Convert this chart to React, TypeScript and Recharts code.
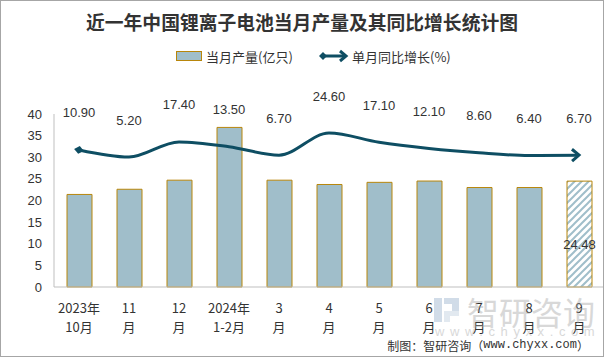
import { ComposedChart, Bar, Line, XAxis, YAxis, Cell, LabelList } from "recharts";

const MONTH_TOP = ["2023年", "11", "12", "2024年", "3", "4", "5", "6", "7", "8", "9"];
const MONTH_BOTTOM = ["10月", "月", "月", "1-2月", "月", "月", "月", "月", "月", "月", "月"];
// 当月产量(亿只)
const OUTPUT = [21.4, 22.6, 24.7, 36.9, 24.7, 23.7, 24.2, 24.5, 23.0, 23.0, 24.48];
// 单月同比增长(%)
const GROWTH = [10.9, 5.2, 17.4, 13.5, 6.7, 24.6, 17.1, 12.1, 8.6, 6.4, 6.7];
const Y_TICKS = [0, 5, 10, 15, 20, 25, 30, 35, 40];

const BAR_FILL = "#A0BECA";
const BAR_STROKE = "#B8860B";
const LINE_COLOR = "#0E4E63";
const TEXT = "#333333";
const NUM_FONT = "'Liberation Sans', Arial, sans-serif";
const CJK_FONT = "'Noto Sans CJK SC', 'Noto Sans', sans-serif";
const MONO_FONT = "'Liberation Mono', 'DejaVu Sans Mono', monospace";

const data = MONTH_TOP.map((top, i) => ({
  month: `${top}\n${MONTH_BOTTOM[i]}`,
  output: OUTPUT[i],
  growth: GROWTH[i],
}));

const lastIndex = data.length - 1;

function MonthTick({ x, y, payload }: any) {
  const [top, bottom] = String(payload.value).split("\n");
  return (
    <g>
      <text x={x} y={y + 18} textAnchor="middle" dominantBaseline="central" fontSize={13} fill={TEXT} fontFamily={CJK_FONT}>
        {top}
      </text>
      <text x={x} y={y + 37} textAnchor="middle" dominantBaseline="central" fontSize={13} fill={TEXT} fontFamily={CJK_FONT}>
        {bottom}
      </text>
    </g>
  );
}

function GrowthLabel({ x, y, value }: any) {
  return (
    <text x={x} y={y - 37} textAnchor="middle" dominantBaseline="central" fontSize={13} fill={TEXT} fontFamily={NUM_FONT}>
      {Number(value).toFixed(2)}
    </text>
  );
}

function OutputLabel({ x, y, width, height, value, index }: any) {
  if (index !== lastIndex) return null;
  return (
    <text x={x + width / 2} y={y + height * 0.6} textAnchor="middle" dominantBaseline="central" fontSize={13} fill={TEXT} fontFamily={NUM_FONT}>
      {Number(value).toFixed(2)}
    </text>
  );
}

function Overlay() {
  return (
    <svg width={604} height={357} style={{ position: "absolute", left: 0, top: 0, pointerEvents: "none" }}>
      <text x={302} y={21} textAnchor="middle" dominantBaseline="central" fontSize={18.8} fontWeight="bold" fill={TEXT} fontFamily={CJK_FONT}>
        近一年中国锂离子电池当月产量及其同比增长统计图
      </text>
      {/* legend */}
      <rect x={176.5} y={51.5} width={25} height={9} fill={BAR_FILL} stroke={BAR_STROKE} strokeWidth={1} />
      <text x={206} y={56} dominantBaseline="central" fontSize={13} fill={TEXT} fontFamily={CJK_FONT}>
        当月产量(亿只)
      </text>
      <line x1={323} y1={56} x2={345} y2={56} stroke={LINE_COLOR} strokeWidth={3} />
      <path d="M319,56 L323,52 L327,56 L323,60 Z" fill={LINE_COLOR} />
      <path d="M340,51 L346,56 L340,61" fill="none" stroke={LINE_COLOR} strokeWidth={3} />
      <text x={352} y={56} dominantBaseline="central" fontSize={13} fill={TEXT} fontFamily={CJK_FONT}>
        单月同比增长(%)
      </text>
      {/* watermark */}
      <g opacity={0.4}>
        <rect x={434} y={298} width={8} height={24} fill="#8fa9c6" />
        <rect x={444} y={298} width={15} height={6} fill="#8fa9c6" />
        <rect x={452} y={304} width={7} height={7} fill="#8fa9c6" />
        <rect x={444} y={311} width={15} height={5} fill="#b9c9da" />
        <rect x={444} y={316} width={6} height={6} fill="#b9c9da" />
        <text x={467} y={311} dominantBaseline="central" fontSize={32} fill="#a0a0a0" fontFamily={CJK_FONT}>
          智研咨询
        </text>
        <text x={435} y={331} dominantBaseline="central" fontSize={13} letterSpacing={5.6} fill="#a0a0a0" fontFamily={NUM_FONT}>
          www.chyxx.com
        </text>
      </g>
      <text x={589} y={345} textAnchor="end" dominantBaseline="central" fontSize={12} fill={TEXT} fontFamily={CJK_FONT}>
        制图：智研咨询（<tspan fontFamily={MONO_FONT}>www.chyxx.com</tspan>）
      </text>
    </svg>
  );
}

export default function App() {
  return (
    <div style={{ position: "fixed", left: 0, top: 0, width: 604, height: 357, background: "#fff", fontFamily: CJK_FONT }}>
      <ComposedChart width={604} height={357} data={data} margin={{ top: 114, right: 0, bottom: 0, left: 0 }}>
        <defs>
          <pattern id="hatch" patternUnits="userSpaceOnUse" width={7} height={7}>
            <rect width={7} height={7} fill="#fff" />
            <path d="M-1,1 L1,-1 M0,7 L7,0 M6,8 L8,6" stroke={BAR_FILL} strokeWidth={2} />
          </pattern>
          <marker id="diamond" markerUnits="userSpaceOnUse" markerWidth={10} markerHeight={10} refX={5} refY={5} orient="auto">
            <path d="M0,5 L5,1 L10,5 L5,9 Z" fill={LINE_COLOR} />
          </marker>
          <marker id="arrow" markerUnits="userSpaceOnUse" markerWidth={14} markerHeight={16} refX={10} refY={8} orient="auto">
            <path d="M3,2 L10,8 L3,14" fill="none" stroke={LINE_COLOR} strokeWidth={3} />
          </marker>
        </defs>
        <XAxis
          dataKey="month"
          interval={0}
          height={70}
          tickLine={false}
          tickSize={0}
          axisLine={{ stroke: "#bfbfbf" }}
          tick={<MonthTick />}
        />
        <YAxis
          yAxisId="left"
          width={54}
          domain={[0, 40]}
          ticks={Y_TICKS}
          tickLine={false}
          tickSize={0}
          tickMargin={12}
          axisLine={{ stroke: "#bfbfbf" }}
          tick={{ fontSize: 13, fill: TEXT, fontFamily: NUM_FONT }}
        />
        <YAxis yAxisId="right" orientation="right" hide domain={[-100, 40]} />
        <Bar yAxisId="left" dataKey="output" barSize={25} fill={BAR_FILL} stroke={BAR_STROKE} strokeWidth={1} isAnimationActive={false}>
          {data.map((_, i) => (
            <Cell key={i} fill={i === lastIndex ? "url(#hatch)" : BAR_FILL} />
          ))}
          <LabelList dataKey="output" content={<OutputLabel />} />
        </Bar>
        <Line
          yAxisId="right"
          type="monotone"
          dataKey="growth"
          stroke={LINE_COLOR}
          strokeWidth={3}
          dot={false}
          activeDot={false}
          markerStart="url(#diamond)"
          markerEnd="url(#arrow)"
          isAnimationActive={false}
        >
          <LabelList dataKey="growth" content={<GrowthLabel />} />
        </Line>
      </ComposedChart>
      <Overlay />
      <div style={{ position: "absolute", left: 0, top: 0, width: 604, height: 357, boxSizing: "border-box", border: "1px solid #a6a6a6", pointerEvents: "none" }} />
    </div>
  );
}
